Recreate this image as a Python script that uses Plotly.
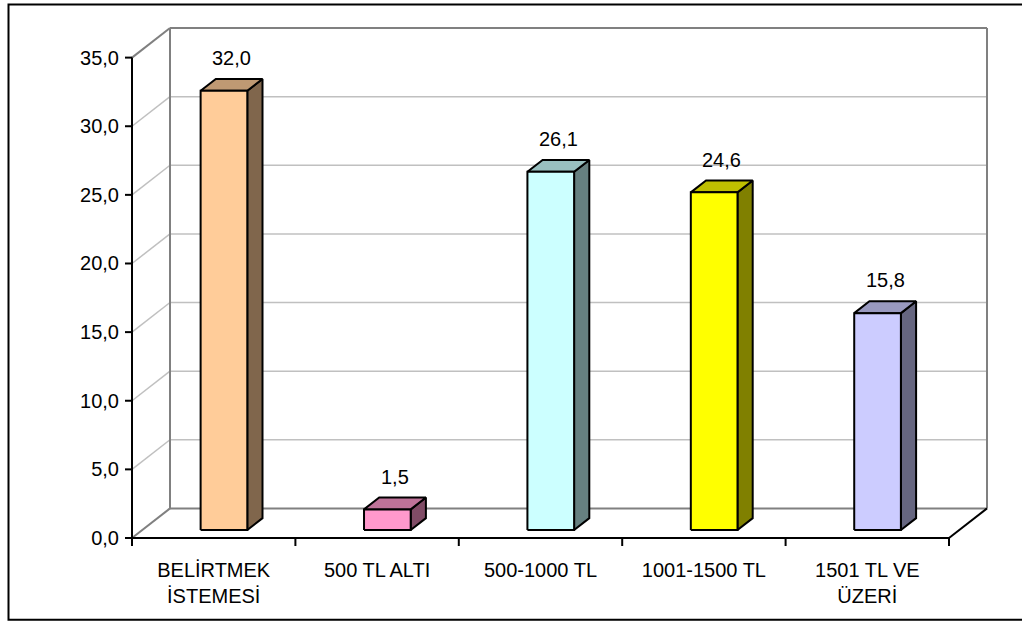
import plotly.graph_objects as go

# ---- data ----
categories = ["BELİRTMEK<br>İSTEMESİ", "500 TL ALTI", "500-1000 TL", "1001-1500 TL", "1501 TL VE<br>ÜZERİ"]
values = [32.0, 1.5, 26.1, 24.6, 15.8]
front_colors = ["#FFCC99", "#FF99CC", "#CCFFFF", "#FFFF00", "#CCCCFF"]
y_ticks = [0, 5, 10, 15, 20, 25, 30, 35]

# ---- geometry of the pseudo-3D box ----
W, H = 1022, 621
ORIGIN_X, ORIGIN_Y = 131.5, 538.3      # pixel position of the front (0, 0) corner
CAT_PX = 163.4                          # pixels per category
UNIT_PX = 13.72                         # pixels per value unit
DEPTH_X_PX, DEPTH_Y_PX = 38.0, 29.6     # offset from front plane to back wall
DX = DEPTH_X_PX / CAT_PX
DY = DEPTH_Y_PX / UNIT_PX
Y_MAX = y_ticks[-1]
N = len(categories)
BAR_W = 1 / 3.5                         # gap width 250 %
D_FRONT, D_BACK = 0.27, 0.67            # bar depth span (fraction of floor depth)

PAD_L, PAD_B, PAD_R, PAD_T = 12, 12, 4, 4
x_range = [-PAD_L / CAT_PX, N + DX + PAD_R / CAT_PX]
y_range = [-PAD_B / UNIT_PX, Y_MAX + DY + PAD_T / UNIT_PX]
plot_w = (x_range[1] - x_range[0]) * CAT_PX
plot_h = (y_range[1] - y_range[0]) * UNIT_PX
m_l = ORIGIN_X - PAD_L
m_b = H - ORIGIN_Y - PAD_B
m_t = H - m_b - plot_h
m_r = W - m_l - plot_w

EDGE = "#808080"
GRID = "#C0C0C0"
FONT = "Liberation Sans, Arial, sans-serif"


def proj(x, y, d):
    """Project a point (category x, value y, depth d) onto the 2D axes."""
    return x + d * DX, y + d * DY


fig = go.Figure()


def line(xs, ys, color, width):
    fig.add_trace(go.Scatter(x=xs, y=ys, mode="lines", line=dict(color=color, width=width),
                             hoverinfo="skip", showlegend=False))


def poly(pts, fill):
    xs = [p[0] for p in pts] + [pts[0][0]]
    ys = [p[1] for p in pts] + [pts[0][1]]
    fig.add_trace(go.Scatter(x=xs, y=ys, mode="lines", fill="toself", fillcolor=fill,
                             line=dict(color="black", width=2), hoverinfo="skip",
                             showlegend=False))


def shade(hex_color, k):
    r, g, b = (int(hex_color[i:i + 2], 16) for i in (1, 3, 5))
    return "#%02X%02X%02X" % (round(r * k), round(g * k), round(b * k))


# side wall diagonals and back wall gridlines
for t in y_ticks:
    edge = t in (0, Y_MAX)
    col, wd = (EDGE, 2) if edge else (GRID, 1.5)
    x0, y0 = proj(0, t, 0)
    x1, y1 = proj(0, t, 1)
    x2, y2 = proj(N, t, 1)
    line([x0, x1], [y0, y1], col, wd)
    line([x1, x2], [y1, y2], col, wd)

# back wall vertical edges
for xc in (0, N):
    xa, ya = proj(xc, 0, 1)
    xb, yb = proj(xc, Y_MAX, 1)
    line([xa, xb], [ya, yb], EDGE, 2)

# front axes and floor right edge
line([0, 0], [0, Y_MAX], "black", 2)
line([0, N], [0, 0], "black", 2)
xr, yr = proj(N, 0, 1)
line([N, xr], [0, yr], "black", 2)

# tick marks
for t in y_ticks:
    line([-7 / CAT_PX, 0], [t, t], "black", 2)
for k in range(N + 1):
    line([k, k], [0, -8 / UNIT_PX], "black", 2)

# bars: front face, top face, right side face
for i, (v, col) in enumerate(zip(values, front_colors)):
    xl, xrt = i + 0.5 - BAR_W / 2, i + 0.5 + BAR_W / 2
    f_bl, f_br = proj(xl, 0, D_FRONT), proj(xrt, 0, D_FRONT)
    f_tl, f_tr = proj(xl, v, D_FRONT), proj(xrt, v, D_FRONT)
    b_tl, b_tr = proj(xl, v, D_BACK), proj(xrt, v, D_BACK)
    b_br = proj(xrt, 0, D_BACK)
    poly([f_br, b_br, b_tr, f_tr], shade(col, 0.5))
    poly([f_tl, f_tr, b_tr, b_tl], shade(col, 0.75))
    poly([f_bl, f_br, f_tr, f_tl], col)
    lx, ly = proj(i + 0.5, v, (D_FRONT + D_BACK) / 2)
    fig.add_annotation(x=lx, y=v + D_BACK * DY, yshift=21, text=f"{v:.1f}".replace(".", ","),
                       showarrow=False, yanchor="middle",
                       font=dict(family=FONT, size=20, color="black"))

# chart area border
fig.add_shape(type="rect", xref="paper", yref="paper",
              x0=(8 - m_l) / plot_w, x1=(1040 - m_l) / plot_w,
              y0=(H - m_b - 620) / plot_h, y1=(H - m_b - 5) / plot_h,
              line=dict(color="black", width=2), fillcolor="rgba(0,0,0,0)")

fig.update_layout(
    width=W, height=H, autosize=False,
    margin=dict(l=m_l, r=m_r, t=m_t, b=m_b, pad=0),
    paper_bgcolor="white", plot_bgcolor="white",
    separators=",.",
    font=dict(family=FONT, size=20, color="black"),
    showlegend=False,
    xaxis=dict(range=x_range, tickvals=[i + 0.5 for i in range(N)], ticktext=categories,
               ticks="", showline=False, showgrid=False, zeroline=False,
               tickfont=dict(family=FONT, size=20, color="black"), ticklabelstandoff=6,
               fixedrange=True),
    yaxis=dict(range=y_range, tickvals=y_ticks, tickformat=".1f", ticks="",
               showline=False, showgrid=False, zeroline=False,
               tickfont=dict(family=FONT, size=20, color="black"), ticklabelstandoff=0,
               fixedrange=True),
)

fig.write_html("out.html")
